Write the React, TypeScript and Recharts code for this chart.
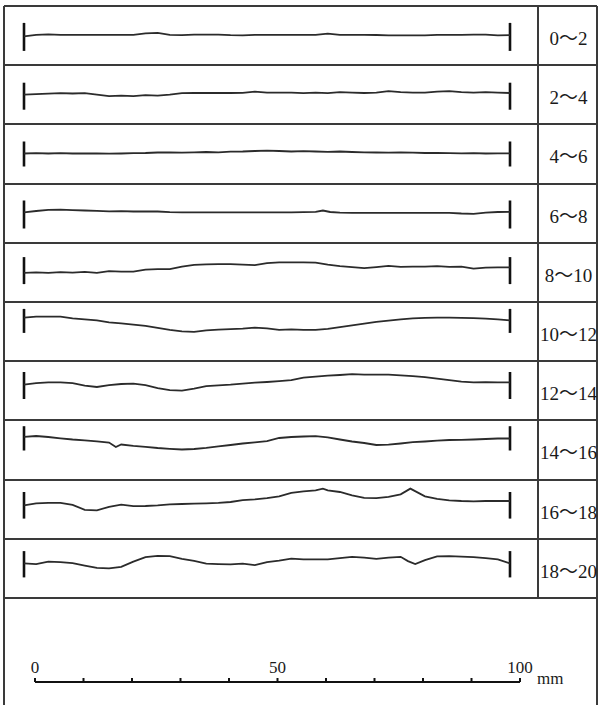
import { LineChart, Line, XAxis, YAxis, ReferenceLine } from "recharts";

// depth ranges (cm) shown in the right column
const rangeLabels = ["0～2", "2～4", "4～6", "6～8", "8～10", "10～12", "12～14", "14～16", "16～18", "18～20"];

// surface profiles: [distance along profile (mm), relative height]
const profile0: [number, number][] = [
  [0, -0.9], [2.5, 0.6], [5, 1.1], [7.5, 0.6], [10, 0.6], [12.5, 0.7], [15, 0.6], [17.5, 0.6], [20, 0.7], [22.5, 0.6],
  [25, 2.1], [27.5, 2.6], [30, 0.6], [32.5, 0.3], [35, 0.8], [37.5, 0.8], [40, 0.8], [42.5, 0.3], [45, 0.1], [47.5, 0.6],
  [50, 0.6], [52.5, 0.6], [55, 0.6], [57.5, 0.6], [60, 0.7], [62.5, 1.8], [65, 0.6], [67.5, 0.6], [70, 0.6], [72.5, 0.5],
  [75, 0.1], [77.5, 0.1], [80, 0.1], [82.5, 0.2], [85, 0.6], [87.5, 0.6], [90, 0.6], [92.5, 0.8], [95, 0.9], [97.5, 0.2], [100, 0.4],
];
const profile1: [number, number][] = [
  [0, -0.2], [2.5, 0.3], [5, 0.8], [7.5, 1.3], [10, 1.0], [12.5, 1.3], [15, -0.2], [17.5, -1.7], [20, -1.2], [22.5, -1.7],
  [25, -0.7], [27.5, -1.2], [30, -0.2], [32.5, 1.3], [35, 1.5], [37.5, 1.5], [40, 1.5], [42.5, 1.5], [45, 1.6], [47.5, 2.8],
  [50, 1.8], [52.5, 1.8], [55, 1.8], [57.5, 1.3], [60, 1.8], [62.5, 1.3], [65, 2.3], [67.5, 1.8], [70, 1.5], [72.5, 1.8],
  [75, 3.3], [77.5, 2.3], [80, 1.8], [82.5, 1.8], [85, 2.8], [87.5, 3.3], [90, 2.3], [92.5, 1.8], [95, 2.3], [97.5, 1.8], [100, 1.5],
];
const profile2: [number, number][] = [
  [0, 0], [2.5, 0.3], [5, 0], [7.5, 0.3], [10, 0], [12.5, 0.2], [15, 0], [17.5, -0.2], [20, 0], [22.5, 0.3],
  [25, 0.5], [27.5, 1], [30, 1.2], [32.5, 0.8], [35, 1.2], [37.5, 1.5], [40, 1.2], [42.5, 1.8], [45, 2], [47.5, 2.5],
  [50, 2.8], [52.5, 2.5], [55, 2], [57.5, 2.4], [60, 2], [62.5, 1.6], [65, 2], [67.5, 1.5], [70, 1.2], [72.5, 1],
  [75, 0.8], [77.5, 1], [80, 0.8], [82.5, 0.5], [85, 0.6], [87.5, 0.3], [90, 0.2], [92.5, 0.4], [95, 0], [97.5, 0.2], [100, 0.2],
];
const profile3: [number, number][] = [
  [0, 1.2], [2.5, 2.5], [5, 3.6], [7.5, 3.8], [10, 3.4], [12.5, 3], [15, 2.6], [17.5, 2.2], [20, 2.4], [22.5, 2],
  [25, 2.2], [27.5, 2], [30, 1.4], [32.5, 1.2], [35, 1.2], [37.5, 1.2], [40, 1.2], [42.5, 1.2], [45, 1.2], [47.5, 1.2],
  [50, 1.2], [52.5, 1.2], [55, 1.2], [57.5, 1.3], [60, 1.6], [61.5, 3], [63, 1.5], [65, 0.8], [67.5, 0.7], [70, 0.7],
  [72.5, 0.7], [75, 0.7], [77.5, 0.7], [80, 0.7], [82.5, 0.7], [85, 0.7], [87.5, 0.6], [90, 0], [92.5, -0.3], [95, 0.8], [97.5, 1.5], [100, 1.7],
];
const profile4: [number, number][] = [
  [0, -0.3], [2.5, 0.1], [5, -0.3], [7.5, 0.4], [10, -0.1], [12.5, 0.6], [15, -0.4], [17.5, 1.4], [20, 0.9], [22.5, 0.9],
  [25, 2.9], [27.5, 3.4], [30, 3.4], [32.5, 5.9], [35, 7.6], [37.5, 8.1], [40, 8.4], [42.5, 8.4], [45, 7.9], [47.5, 7.4],
  [50, 9.4], [52.5, 10.1], [55, 10.1], [57.5, 10.1], [60, 9.9], [62.5, 7.9], [65, 6.4], [67.5, 5.4], [70, 4.4], [72.5, 5.4],
  [75, 6.6], [77.5, 5.7], [80, 5.9], [82.5, 5.9], [85, 6.4], [87.5, 5.6], [90, 5.9], [92.5, 3.9], [95, 4.9], [97.5, 5.1], [100, 5.1],
];
const profile5: [number, number][] = [
  [0, 13.9], [2.5, 14.8], [5, 14.9], [7.5, 14.9], [10, 13.1], [12.5, 12.1], [15, 11.1], [17.5, 9.1], [20, 8.1], [22.5, 6.8],
  [25, 5.6], [27.5, 3.6], [30, 1.6], [32.5, 0.1], [35, -0.4], [37.5, 1.1], [40, 1.8], [42.5, 2.3], [45, 2.8], [47.5, 3.8],
  [50, 3.1], [52.5, 1.6], [55, 2.1], [57.5, 1.6], [60, 1.6], [62.5, 2.6], [65, 4.3], [67.5, 6.1], [70, 7.8], [72.5, 9.6],
  [75, 10.9], [77.5, 12.1], [80, 13.1], [82.5, 13.6], [85, 13.9], [87.5, 13.9], [90, 13.6], [92.5, 13.3], [95, 12.9], [97.5, 12.1], [100, 11.1],
];
const profile6: [number, number][] = [
  [0, 5.8], [2.5, 7.3], [5, 8.1], [7.5, 8.1], [10, 7.3], [12.5, 4.8], [15, 3.5], [17.5, 5.3], [20, 6.5], [22.5, 6.8],
  [25, 5.3], [27.5, 2.3], [30, 0.3], [32.5, -0.2], [35, 1.8], [37.5, 4.3], [40, 5.1], [42.5, 5.8], [45, 6.8], [47.5, 7.8],
  [50, 8.5], [52.5, 9.3], [55, 10.3], [57.5, 12.8], [60, 13.8], [62.5, 14.8], [65, 15.5], [67.5, 16.3], [70, 15.8], [72.5, 15.8],
  [75, 15.8], [77.5, 15.1], [80, 14.3], [82.5, 13.3], [85, 11.8], [87.5, 10.3], [90, 8.8], [92.5, 8.1], [95, 8.3], [97.5, 8.1], [100, 8.1],
];
const profile7: [number, number][] = [
  [0, 12.7], [2.5, 13.5], [5, 12.5], [7.5, 11.2], [10, 10], [12.5, 9.2], [15, 8.2], [17.5, 7], [18.9, 2.5], [20, 5],
  [22.5, 3.7], [25, 2.7], [27.5, 1.5], [30, 0.7], [32.5, 0], [35, 0.5], [37.5, 1.7], [40, 3.2], [42.5, 4.5], [45, 6],
  [47.5, 7.2], [50, 8.3], [52.5, 11.5], [55, 12.5], [57.5, 13], [60, 13.3], [62.5, 12.2], [65, 10], [67.5, 8], [70, 6.5],
  [72.5, 4.5], [75, 4.8], [77.5, 6], [80, 7.3], [82.5, 8], [85, 8.8], [87.5, 9.5], [90, 9.7], [92.5, 10], [95, 10.5], [97.5, 11], [100, 11],
];
const profile8: [number, number][] = [
  [0, 4.2], [2.5, 6.2], [5, 6.7], [7.5, 6.7], [10, 4.7], [12.5, -0.3], [15, -0.8], [17.5, 2.7], [20, 4.9], [22.5, 3.4],
  [25, 3.5], [27.5, 4.2], [30, 5.2], [32.5, 5.5], [35, 5.9], [37.5, 6.2], [40, 6.7], [42.5, 7.5], [45, 9.4], [47.5, 10.2],
  [50, 11.4], [52.5, 13.2], [55, 16.6], [57.5, 18.2], [60, 19.2], [61.5, 20.9], [62.5, 19.2], [65, 17.5], [67.5, 14.2], [70, 11.7],
  [72.5, 11.4], [75, 12.7], [77.5, 15.2], [79.5, 20.9], [82.5, 13.2], [85, 10.7], [87.5, 9.2], [90, 8.5], [92.5, 8.2], [95, 8.5], [97.5, 8.5], [100, 8.5],
];
const profile9: [number, number][] = [
  [0, 5.1], [2.5, 4.4], [5, 6.9], [7.5, 6.4], [10, 5.4], [12.5, 2.9], [15, 0.6], [17.5, 0.1], [20, 1.7], [22.5, 6.9],
  [25, 11.4], [27.5, 12.7], [30, 12.4], [32.5, 9.6], [35, 7.6], [37.5, 4.9], [40, 4.4], [42.5, 4.1], [45, 4.9], [47.5, 3.4],
  [50, 6.4], [52.5, 7.9], [55, 9.9], [57.5, 9.1], [60, 9.1], [62.5, 9.1], [65, 10.4], [67.5, 11.7], [70, 10.9], [72.5, 9.7],
  [75, 10.9], [77.5, 11.7], [79, 7.4], [80.5, 4.4], [82.5, 8.4], [85, 12.1], [87.5, 12.4], [90, 11.9], [92.5, 11.4], [95, 10.4], [97.5, 9.1], [100, 5.1],
];
const profiles = [profile0, profile1, profile2, profile3, profile4, profile5, profile6, profile7, profile8, profile9];

// end marks of each profile (top / bottom, same units as the heights)
const markTop = [12.6, 11.8, 12, 13, 15.4, 22.6, 18.5, 23.3, 17.5, 17.4];
const markBottom = [-15.4, -15.2, -13, -15, -11.6, -1.4, -8.5, -1, -9.1, -8.9];

// scale bar
const scaleTicks = [0, 10, 20, 30, 40, 50, 60, 70, 80, 90, 100];
const scaleLabels = [0, 50, 100];

const FRAME_LEFT = 4;
const FRAME_TOP = 6;
const ROW_H = 59.2;
const COL_X = 538;
const RIGHT = 597;
const BORDER = "#3a3a3a";
const SERIF = '"Liberation Serif", "Times New Roman", "Noto Sans CJK SC", serif';

function ProfileRow({ data, top, hi, lo }: { data: [number, number][]; top: number; hi: number; lo: number }) {
  const rows = data.map(([x, y]) => ({ x, y }));
  return (
    <div style={{ position: "absolute", left: FRAME_LEFT, top, width: COL_X - FRAME_LEFT, height: 59 }}>
      <LineChart width={COL_X - FRAME_LEFT} height={59} data={rows} margin={{ top: 0, right: 28, bottom: 0, left: 20 }}>
        <XAxis type="number" dataKey="x" domain={[0, 100]} hide />
        <YAxis type="number" domain={[-29.5, 29.5]} hide />
        <ReferenceLine segment={[{ x: 0, y: hi }, { x: 0, y: lo }]} stroke="#111" strokeWidth={2.6} />
        <ReferenceLine segment={[{ x: 100, y: hi }, { x: 100, y: lo }]} stroke="#111" strokeWidth={2.6} />
        <Line type="linear" dataKey="y" stroke="#2b2b2b" strokeWidth={1.8} dot={false} isAnimationActive={false} />
      </LineChart>
    </div>
  );
}

export default function App() {
  const bottom = FRAME_TOP + ROW_H * rangeLabels.length;
  return (
    <div style={{ position: "fixed", left: 0, top: 0, width: 600, height: 705, background: "#fff", overflow: "hidden" }}>
      {/* frame */}
      <div style={{ position: "absolute", left: FRAME_LEFT - 1, top: FRAME_TOP, width: 2, height: 705 - FRAME_TOP, background: BORDER }} />
      <div style={{ position: "absolute", left: RIGHT - 1, top: FRAME_TOP, width: 2, height: 705 - FRAME_TOP, background: BORDER }} />
      <div style={{ position: "absolute", left: COL_X - 1, top: FRAME_TOP, width: 2, height: bottom - FRAME_TOP, background: BORDER }} />
      {rangeLabels.map((_, i) => (
        <div key={"h" + i} style={{ position: "absolute", left: FRAME_LEFT, top: FRAME_TOP + ROW_H * i - 1, width: RIGHT - FRAME_LEFT, height: 2, background: BORDER }} />
      ))}
      <div style={{ position: "absolute", left: FRAME_LEFT, top: bottom - 1, width: RIGHT - FRAME_LEFT, height: 2, background: BORDER }} />

      {profiles.map((p, i) => (
        <ProfileRow key={i} data={p} top={FRAME_TOP + ROW_H * i} hi={markTop[i]} lo={markBottom[i]} />
      ))}

      {rangeLabels.map((label, i) => (
        <div
          key={"l" + i}
          style={{
            position: "absolute",
            left: COL_X,
            top: FRAME_TOP + ROW_H * i + 1,
            width: RIGHT - COL_X + 2,
            height: ROW_H,
            display: "flex",
            alignItems: "center",
            justifyContent: "center",
            fontFamily: SERIF,
            fontSize: 19,
            color: "#1a1a1a",
            whiteSpace: "nowrap",
          }}
        >
          {label}
        </div>
      ))}

      {/* scale bar */}
      <div style={{ position: "absolute", left: FRAME_LEFT, top: 640 }}>
        <LineChart width={COL_X - FRAME_LEFT} height={60} data={scaleTicks.map((v) => ({ x: v }))} margin={{ top: 12, right: 18, bottom: 0, left: 31 }}>
          <XAxis
            type="number"
            dataKey="x"
            orientation="top"
            height={30}
            domain={[0, 100]}
            ticks={scaleTicks}
            interval={0}
            tickFormatter={(v: number) => (scaleLabels.includes(v) ? String(v) : "")}
            tickSize={4}
            tickMargin={5}
            axisLine={{ stroke: "#111", strokeWidth: 2 }}
            tickLine={{ stroke: "#111", strokeWidth: 2 }}
            tick={{ fill: "#1a1a1a", fontSize: 17, fontFamily: SERIF }}
          />
          <YAxis hide />
        </LineChart>
      </div>
      <div style={{ position: "absolute", left: 537, top: 670, fontFamily: SERIF, fontSize: 17, lineHeight: "17px", color: "#1a1a1a" }}>
        mm
      </div>
    </div>
  );
}
